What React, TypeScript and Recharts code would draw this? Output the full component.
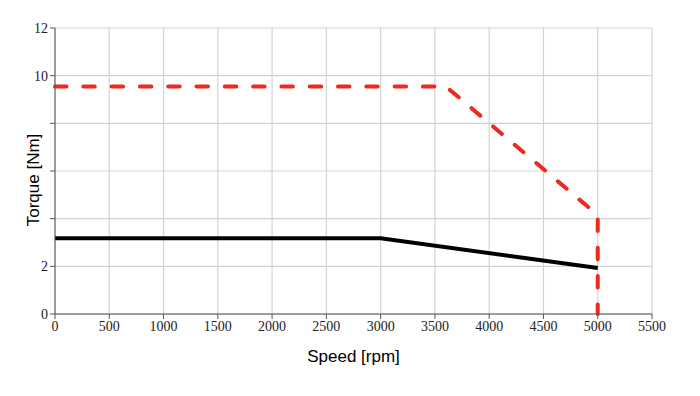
import { CartesianGrid, Label, Line, LineChart, XAxis, YAxis } from 'recharts';

const SPEED_TICKS = [0, 500, 1000, 1500, 2000, 2500, 3000, 3500, 4000, 4500, 5000, 5500];
const TORQUE_TICKS = [0, 2, 4, 6, 8, 10, 12];
// labels the source chart actually prints on the y axis (4, 6, 8 are hidden under the title)
const TORQUE_LABELED = [0, 2, 10, 12];

const peakSpeed = [0, 3600, 5000, 5000];
const peakTorque = [9.55, 9.55, 4.15, 0];

const contSpeed = [0, 3000, 5000];
const contTorque = [3.18, 3.18, 1.93];

const peak = peakSpeed.map((s, i) => ({ speed: s, torque: peakTorque[i] }));
const cont = contSpeed.map((s, i) => ({ speed: s, torque: contTorque[i] }));

const AXIS = '#555';
const GRID = '#d3d3d3';
const RED = '#ec2a1e';
const tickFont = { fontFamily: '"Liberation Serif", "Times New Roman", serif', fontSize: 14, fill: '#222' };
const titleFont = '"Liberation Sans", Arial, sans-serif';

function YTitle({ viewBox }: { viewBox?: { x: number; y: number; width: number; height: number } }) {
  if (!viewBox) return null;
  const cx = 33;
  const cy = viewBox.y + viewBox.height / 2 + 9;
  return (
    <text
      x={cx}
      y={cy}
      transform={`rotate(-90 ${cx} ${cy})`}
      textAnchor="middle"
      dominantBaseline="central"
      fontFamily={titleFont}
      fontSize={17}
      fill="#000"
    >
      Torque [Nm]
    </text>
  );
}

export default function App() {
  return (
    <div style={{ width: 700, height: 396, background: '#fff' }}>
      <style>{'body{margin:0}'}</style>
      <LineChart width={700} height={396} margin={{ top: 28, right: 48, bottom: 32, left: 0 }}>
        <CartesianGrid stroke={GRID} strokeWidth={1.2} />
        <XAxis
          type="number"
          dataKey="speed"
          domain={[0, 5500]}
          ticks={SPEED_TICKS}
          interval={0}
          allowDuplicatedCategory={false}
          stroke={AXIS}
          tick={tickFont}
          tickSize={5}
          height={50}
        >
          <Label
            value="Speed [rpm]"
            position="insideBottom"
            offset={2}
            style={{ fontFamily: titleFont, fontSize: 17, fill: '#000' }}
          />
        </XAxis>
        <YAxis
          type="number"
          domain={[0, 12]}
          ticks={TORQUE_TICKS}
          interval={0}
          width={55}
          stroke={AXIS}
          tick={tickFont}
          tickSize={5}
          tickFormatter={(v: number) => (TORQUE_LABELED.includes(v) ? String(v) : '')}
        >
          <Label content={<YTitle />} />
        </YAxis>
        <Line
          data={cont}
          dataKey="torque"
          stroke="#000"
          strokeWidth={4}
          dot={false}
          isAnimationActive={false}
        />
        <Line
          data={peak}
          dataKey="torque"
          stroke={RED}
          strokeWidth={4}
          strokeDasharray="11.5 16.8"
          strokeLinecap="round"
          dot={false}
          isAnimationActive={false}
        />
      </LineChart>
    </div>
  );
}
